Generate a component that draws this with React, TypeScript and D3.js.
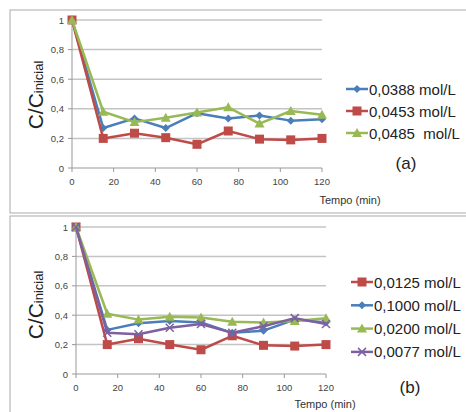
import * as d3 from "d3";

const times = [0, 15, 30, 45, 60, 75, 90, 105, 120];
const xTicks = [0, 20, 40, 60, 80, 100, 120];
const yTicks = [0, 0.2, 0.4, 0.6, 0.8, 1];

// panel (a)
const a0388 = [1, 0.27, 0.335, 0.27, 0.37, 0.335, 0.355, 0.32, 0.33];
const a0453 = [1, 0.2, 0.235, 0.205, 0.16, 0.25, 0.195, 0.19, 0.2];
const a0485 = [1, 0.38, 0.31, 0.34, 0.375, 0.41, 0.3, 0.385, 0.36];

// panel (b)
const b0125 = [1, 0.2, 0.24, 0.2, 0.165, 0.26, 0.195, 0.19, 0.2];
const b1000 = [1, 0.3, 0.345, 0.36, 0.35, 0.28, 0.295, 0.37, 0.35];
const b0200 = [1, 0.41, 0.37, 0.39, 0.385, 0.355, 0.35, 0.36, 0.38];
const b0077 = [1, 0.28, 0.27, 0.315, 0.34, 0.28, 0.325, 0.38, 0.34];

const BLUE = "#4a7ebb";
const RED = "#be4b48";
const GREEN = "#98b954";
const PURPLE = "#7d60a0";

type Series = { label: string; values: number[]; color: string; marker: string };

const seriesA: Series[] = [
  { label: "0,0388 mol/L", values: a0388, color: BLUE, marker: "diamond" },
  { label: "0,0453 mol/L", values: a0453, color: RED, marker: "square" },
  { label: "0,0485  mol/L", values: a0485, color: GREEN, marker: "triangle" },
];

const seriesB: Series[] = [
  { label: "0,0125 mol/L", values: b0125, color: RED, marker: "square" },
  { label: "0,1000 mol/L", values: b1000, color: BLUE, marker: "diamond" },
  { label: "0,0200 mol/L", values: b0200, color: GREEN, marker: "triangle" },
  { label: "0,0077 mol/L", values: b0077, color: PURPLE, marker: "x" },
];

function Marker({ type, x, y, color }: { type: string; x: number; y: number; color: string }) {
  if (type === "square") {
    return <rect x={x - 4.5} y={y - 4.5} width={9} height={9} fill={color} />;
  }
  if (type === "diamond") {
    return <path d={`M${x},${y - 4}L${x + 4},${y}L${x},${y + 4}L${x - 4},${y}Z`} fill={color} />;
  }
  if (type === "triangle") {
    return <path d={`M${x},${y - 5}L${x + 5},${y + 4}L${x - 5},${y + 4}Z`} fill={color} />;
  }
  return (
    <path
      d={`M${x - 4},${y - 4}L${x + 4},${y + 4}M${x - 4},${y + 4}L${x + 4},${y - 4}`}
      stroke={color}
      strokeWidth={1.5}
    />
  );
}

function Panel({
  series, x0, x1, yTop, yBottom, legendX, legendY, legendGap, tag, tagX, tagY, titleX, titleY, tempoX, tempoY,
}: {
  series: Series[]; x0: number; x1: number; yTop: number; yBottom: number;
  legendX: number; legendY: number; legendGap: number; tag: string; tagX: number; tagY: number;
  titleX: number; titleY: number; tempoX: number; tempoY: number;
}) {
  const x = d3.scaleLinear().domain([0, 120]).range([x0, x1]);
  const y = d3.scaleLinear().domain([0, 1]).range([yBottom, yTop]);
  const line = d3
    .line<number>()
    .x((_, i) => x(times[i]))
    .y((v) => y(v));
  return (
    <g>
      {yTicks.slice(1).map((t) => (
        <line key={t} x1={x0} x2={x1} y1={y(t)} y2={y(t)} stroke="#c4c4c4" strokeWidth={1.5} />
      ))}
      <line x1={x0} x2={x0} y1={yTop} y2={yBottom} stroke="#999" />
      <line x1={x0} x2={x1} y1={yBottom} y2={yBottom} stroke="#999" />
      {yTicks.map((t) => (
        <g key={t}>
          <line x1={x0 - 4} x2={x0} y1={y(t)} y2={y(t)} stroke="#999" />
          <text x={x0 - 8} y={y(t) + 3.5} fontSize={9.5} fill="#444" textAnchor="end">
            {t === 0 || t === 1 ? String(t) : String(t).replace(".", ",")}
          </text>
        </g>
      ))}
      {xTicks.map((t) => (
        <g key={t}>
          <line x1={x(t)} x2={x(t)} y1={yBottom} y2={yBottom + 4} stroke="#999" />
          <text x={x(t)} y={yBottom + 17} fontSize={9.5} fill="#444" textAnchor="middle">
            {t}
          </text>
        </g>
      ))}
      <text transform={`translate(${titleX},${titleY}) rotate(-90)`} textAnchor="middle" fill="#222">
        <tspan fontSize={21}>C/C</tspan>
        <tspan fontSize={13}>inicial</tspan>
      </text>
      <text x={tempoX} y={tempoY} fontSize={11} fill="#333" textAnchor="middle">
        Tempo (min)
      </text>
      {series.map((s) => (
        <g key={s.label}>
          <path d={line(s.values) || ""} fill="none" stroke={s.color} strokeWidth={2.5} strokeLinejoin="round" />
          {s.values.map((v, i) => (
            <Marker key={i} type={s.marker} x={x(times[i])} y={y(v)} color={s.color} />
          ))}
        </g>
      ))}
      {series.map((s, i) => {
        const ly = legendY + i * legendGap;
        return (
          <g key={s.label}>
            <line x1={legendX} x2={legendX + 22} y1={ly} y2={ly} stroke={s.color} strokeWidth={2.5} />
            <Marker type={s.marker} x={legendX + 11} y={ly} color={s.color} />
            <text x={legendX + 23} y={ly + 5.5} fontSize={15} fill="#222" style={{ whiteSpace: "pre" }}>
              {s.label}
            </text>
          </g>
        );
      })}
      <text x={tagX} y={tagY} fontSize={17} fill="#222" textAnchor="middle">
        {tag}
      </text>
    </g>
  );
}

export default function App() {
  return (
    <svg
      width={466}
      height={412}
      style={{ position: "absolute", left: 0, top: 0, fontFamily: "'Liberation Sans', Arial, sans-serif" }}
    >
      <rect width={466} height={412} fill="#fff" />
      <rect x={10} y={10} width={470} height={203} fill="none" stroke="#aaa" />
      <rect x={10} y={216} width={470} height={210} fill="none" stroke="#aaa" />
      <Panel
        series={seriesA}
        x0={72} x1={322} yTop={20} yBottom={168}
        legendX={346} legendY={89} legendGap={22}
        tag="(a)" tagX={406} tagY={169}
        titleX={43} titleY={95}
        tempoX={350} tempoY={204}
      />
      <Panel
        series={seriesB}
        x0={76} x1={326} yTop={227} yBottom={374}
        legendX={351} legendY={282} legendGap={23.3}
        tag="(b)" tagX={410} tagY={393}
        titleX={43} titleY={305}
        tempoX={325} tempoY={408}
      />
    </svg>
  );
}
